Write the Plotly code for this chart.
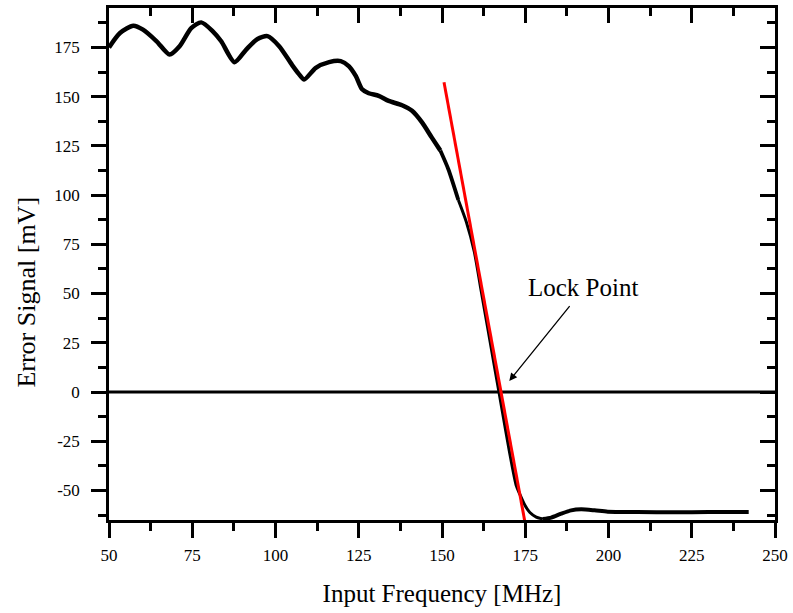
import plotly.graph_objects as go

# Measured error signal (black curve)
freq_mhz = [50.0, 53.3, 57.3, 60.2, 64.3, 68.2, 71.2, 74.7, 77.7, 81.1, 83.7, 87.7,
            91.2, 94.6, 97.6, 101.1, 105.0, 107.1, 108.6, 112.1, 116.1, 119.6, 122.0,
            124.1, 126.0, 128.0, 131.0, 134.0, 138.0, 141.0, 144.0, 146.9, 149.5,
            151.9, 154.9, 157.3, 159.7, 161.8, 163.9, 166.0, 168.1, 170.2, 172.3,
            173.4, 174.9, 176.4, 178.3, 180.3, 182.8, 185.8, 188.8, 191.8, 195.8,
            199.8, 208.7, 220.0, 230.0, 242.1]
signal_mv = [175.0, 182.3, 186.0, 184.0, 178.1, 171.4, 175.6, 184.8, 187.7, 183.3,
             178.1, 167.5, 173.9, 179.3, 180.7, 175.6, 166.0, 161.3, 158.7, 164.6,
             167.5, 168.0, 165.5, 160.5, 153.7, 151.7, 150.4, 147.8, 145.6, 142.8,
             136.9, 129.3, 122.6, 113.1, 97.5, 86.4, 71.2, 51.0, 30.8, 10.6, -9.6,
             -29.8, -47.5, -52.0, -57.5, -61.2, -63.5, -64.5, -63.8, -61.8, -60.1,
             -59.6, -60.1, -60.8, -61.0, -61.1, -61.0, -61.0]

# Linear fit around the lock point (red line)
fit_freq = [150.6, 174.9]
fit_mv = [157.3, -66.0]

# Zero reference line
zero_freq = [50, 250]
zero_mv = [0, 0]

# Axis ticks
x_ticks = [50, 75, 100, 125, 150, 175, 200, 225, 250]
x_ticktext = ["50", "75", "100", "125", "150", "175", "200", "225", "250"]
y_ticks = [-50, -25, 0, 25, 50, 75, 100, 125, 150, 175]
y_ticktext = ["-50", "-25", "0", "25", "50", "75", "100", "125", "150", "175"]

x_range = [50, 250]
y_range = [-65, 195]

FONT = "Liberation Serif"

fig = go.Figure()
fig.add_trace(go.Scatter(x=zero_freq, y=zero_mv, mode="lines",
                         line=dict(color="black", width=3), hoverinfo="skip"))

# black curve drawn in pieces: the steep slope looks thinner in the original
pieces = [(50.0, 149.5, 4.5), (149.5, 154.9, 3.8), (154.9, 180.3, 3.0), (180.3, 250.0, 4.0)]
for lo, hi, w in pieces:
    xs = [f for f in freq_mhz if lo <= f <= hi]
    ys = [v for f, v in zip(freq_mhz, signal_mv) if lo <= f <= hi]
    fig.add_trace(go.Scatter(x=xs, y=ys, mode="lines",
                             line=dict(color="black", width=w, shape="spline", smoothing=0.7),
                             hoverinfo="skip"))

fig.add_trace(go.Scatter(x=fit_freq, y=fit_mv, mode="lines",
                         line=dict(color="#ff0000", width=3), hoverinfo="skip"))
# dummy trace for mirrored (inside) ticks on top/right
fig.add_trace(go.Scatter(x=[None], y=[None], xaxis="x2", yaxis="y2",
                         mode="lines", hoverinfo="skip"))

axis_common = dict(showgrid=False, zeroline=False, linecolor="black", linewidth=2.5,
                   tickcolor="black", tickwidth=3, ticklen=15)

fig.update_layout(
    width=793, height=613,
    margin=dict(l=109, r=15, t=5, b=93),
    paper_bgcolor="white", plot_bgcolor="white",
    showlegend=False,
    font=dict(family=FONT, color="black"),
    xaxis=dict(range=x_range, tickmode="array", tickvals=x_ticks, ticktext=x_ticktext,
               ticks="outside", showline=True, mirror=True,
               minor=dict(ticks="outside", ticklen=8, tickwidth=3, dtick=12.5,
                          tick0=0, tickcolor="black"),
               tickfont=dict(family=FONT, size=17), ticklabelstandoff=3,
               title=dict(text="Input Frequency [MHz]", font=dict(family=FONT, size=25),
                          standoff=21),
               **axis_common),
    yaxis=dict(range=y_range, tickmode="array", tickvals=y_ticks, ticktext=y_ticktext,
               ticks="outside", showline=True, mirror=True,
               minor=dict(ticks="outside", ticklen=8, tickwidth=3, dtick=12.5,
                          tick0=0, tickcolor="black"),
               tickfont=dict(family=FONT, size=17), ticklabelstandoff=8,
               **axis_common),
    xaxis2=dict(range=x_range, overlaying="x", side="top", anchor="y",
                tickmode="array", tickvals=x_ticks, showticklabels=False,
                ticks="inside", showline=False,
                minor=dict(ticks="inside", ticklen=8, tickwidth=3, dtick=12.5,
                           tick0=0, tickcolor="black"),
                showgrid=False, zeroline=False, tickcolor="black", tickwidth=3, ticklen=15),
    yaxis2=dict(range=y_range, overlaying="y", side="right", anchor="x",
                tickmode="array", tickvals=y_ticks, showticklabels=False,
                ticks="inside", showline=False,
                minor=dict(ticks="inside", ticklen=8, tickwidth=3, dtick=12.5,
                           tick0=0, tickcolor="black"),
                showgrid=False, zeroline=False, tickcolor="black", tickwidth=3, ticklen=15),
)

# y-axis title (sits slightly below the plot centre in the original)
fig.add_annotation(x=-0.124, y=0.445, xref="paper", yref="paper",
                   text="Error Signal [mV]", textangle=-90, showarrow=False,
                   xanchor="center", yanchor="middle",
                   font=dict(family=FONT, size=26, color="black"))

fig.add_annotation(x=170.2, y=5.6, ax=188.7, ay=44.4, axref="x", ayref="y",
                   xref="x", yref="y", text="", showarrow=True,
                   arrowhead=2, arrowsize=1.2, arrowwidth=1.3, arrowcolor="black",
                   standoff=0, startstandoff=0)
fig.add_annotation(x=192.3, y=53, xref="x", yref="y", text="Lock Point",
                   showarrow=False, font=dict(family=FONT, size=25, color="black"))

fig.write_html("out.html")
